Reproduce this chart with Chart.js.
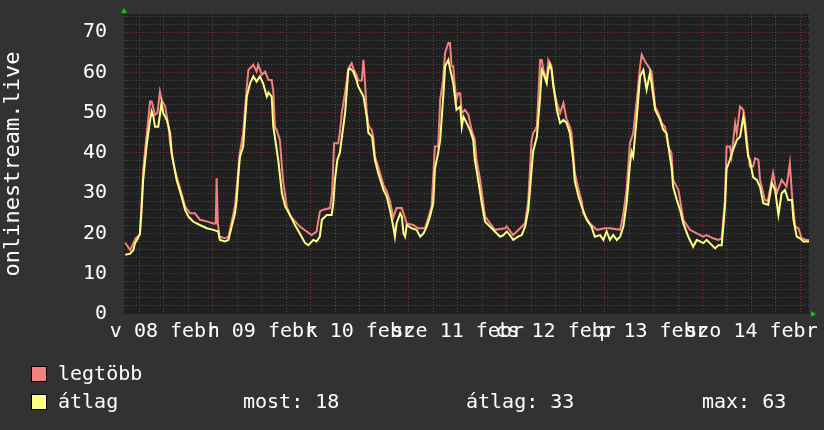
<!DOCTYPE html>
<html>
<head>
<meta charset="utf-8">
<script src="https://cdn.jsdelivr.net/npm/chart.js@4.4.1/dist/chart.umd.min.js"></script>
<style>
  html, body { margin: 0; padding: 0; background: #323232; }
  #wrap { width: 824px; height: 430px; }
</style>
</head>
<body>
<div id="wrap"><canvas id="rrdChart" width="824" height="430"></canvas></div>
<script>
// hours since feb 08 00:00
const maxHours = [
  2.5, 3.7, 4.5, 5.1, 6.1, 6.4, 6.8, 6.9, 7.8, 8.6, 9.0, 9.8, 10.4, 11.0, 11.4, 12.3, 13.1, 13.5, 14.3, 15.1, 16.3, 17.2, 18.4, 19.6, 20.8, 22.5,
  24.1, 24.7, 24.9, 25.2, 25.6, 27.0, 27.8, 28.6, 29.4, 30.0, 30.6, 31.4, 32.3, 32.7, 33.9, 34.7, 35.1, 36.0, 36.8, 37.6, 38.4, 38.8, 39.2, 39.6, 40.4, 41.2, 42.1, 42.9, 45.3, 47.0,
  48.2, 49.4, 50.2, 50.7, 52.7, 53.2, 53.7, 54.7, 55.1, 55.6, 56.4, 57.2, 58.0, 58.4, 59.2, 59.6, 60.5, 60.9, 61.3, 61.7, 62.1, 62.5, 62.9, 63.3, 63.7, 64.5, 65.8, 66.6, 67.4, 68.2, 69.0, 70.3, 71.5,
  73.1, 74.3, 76.0, 77.6, 78.4, 79.2, 79.7, 80.4, 80.9, 81.7, 82.1, 82.5, 82.9, 83.3, 83.7, 84.1, 84.6, 85.0, 85.8, 86.6, 87.4, 88.2, 88.6, 89.5, 90.7, 93.1, 95.6,
  96.0, 97.6, 99.3, 100.5, 101.3, 102.1, 102.5, 103.4, 104.2, 104.6, 105.0, 105.8, 106.2, 107.0, 107.4, 108.3, 109.1, 109.9, 110.7, 111.5, 111.9, 112.7, 113.6, 114.4, 114.8, 116.4, 118.1,
  120.1, 121.3, 123.8, 124.6, 125.4, 126.2, 127.0, 127.9, 128.7, 129.1, 129.9, 130.7, 131.5, 131.9, 132.4, 133.2, 134.0, 134.8, 135.6, 136.4, 136.8, 138.1, 139.3, 140.9, 142.6,
  144.2, 145.0, 146.6, 147.9, 148.7, 149.5, 149.9, 150.7, 151.1, 152.0, 152.4, 152.8, 153.2, 154.0, 154.4, 154.8, 155.2, 155.6, 156.4, 156.9, 157.7, 158.1, 159.3, 160.0, 161.3, 162.2, 163.4, 164.6, 165.4, 165.9, 166.7, 167.5,
  168.3, 169.5, 170.1
];
const maxValues = [
  17.7, 15.9, 17.6, 18.9, 19.6, 25, 33.3, 35.8, 44.9, 52.8, 52.8, 49.5, 49.9, 55.2, 53.2, 51.5, 46.5, 42.4, 37.4, 34.1, 30, 26.7, 25, 25, 23.4, 23,
  22.5, 22.5, 33.7, 22.5, 19.2, 18.8, 19.2, 23, 26.7, 33.3, 40, 44.9, 56.5, 60.6, 61.9, 60.2, 61.9, 59.4, 60.2, 58.1, 58.1, 55.2, 46.5, 45.7, 43.2, 33, 26.7, 24.4, 21.7, 20.5,
  19.6, 20.5, 25.4, 25.8, 26.3, 30, 42.4, 42.4, 45, 50, 55, 61, 62.3, 61, 59.4, 58, 58, 63.1, 57, 50, 47, 46.2, 45.7, 44, 39.1, 36.6, 32, 30.5, 28, 24, 26.3, 26.3, 22.5,
  22.1, 21.3, 21.3, 26.7, 41.6, 41.6, 53.2, 58, 64.8, 67.3, 67.3, 61.5, 61.5, 56.5, 53.2, 54.8, 54.8, 49.9, 50.7, 49.5, 45.7, 43.2, 38.3, 33.3, 24.2, 20.9, 21.3,
  21.7, 19.6, 21.3, 22.5, 28.3, 43.2, 44.9, 46.5, 63.1, 63.1, 60.6, 58.1, 63.1, 61.5, 56.5, 52.4, 49.9, 52.4, 48.2, 46.5, 44.9, 35, 31, 28, 25, 22.5, 20.9,
  21.3, 21.3, 20.9, 25, 30.8, 42.4, 44.9, 53.2, 61.5, 64.4, 62.7, 61.5, 60.2, 56.5, 51.5, 49.9, 47.4, 46.5, 41.6, 39.9, 33.3, 30.8, 23.4, 20.9, 20,
  19.2, 19.6, 18.8, 18.4, 18.8, 28.3, 41.6, 41.6, 39.1, 47.4, 44.9, 48.2, 51.5, 50.7, 48.2, 44, 39.9, 36.6, 36.6, 38.7, 38.3, 33.3, 28.3, 28, 35, 30, 33.3, 31.6, 37.4, 30, 21.7, 21.3,
  18.8, 18.4, 18.4
];
const avgHours = [
  2.5, 3.7, 4.5, 4.9, 5.5, 6.1, 6.5, 6.9, 7.4, 7.8, 8.6, 9.0, 9.4, 9.8, 10.6, 11.4, 11.8, 12.7, 13.5, 13.9, 15.1, 16.3, 17.2, 18.0, 19.2, 20.8, 22.5,
  24.1, 25.3, 25.7, 27.0, 27.8, 28.6, 29.4, 29.8, 30.2, 30.6, 31.4, 32.3, 33.1, 33.9, 34.7, 35.5, 36.3, 37.2, 37.6, 38.4, 38.8, 40.0, 40.9, 41.7, 42.9, 44.1, 45.3, 46.6, 47.4,
  48.6, 49.4, 50.2, 50.7, 51.9, 53.1, 53.5, 53.9, 54.5, 55.1, 56.4, 57.2, 57.6, 58.4, 59.2, 59.6, 60.5, 60.9, 61.7, 62.1, 63.0, 63.7, 64.5, 65.8, 66.6, 67.4, 68.2, 68.6, 69.0, 69.9, 70.3, 70.7, 71.1, 71.5,
  72.7, 73.9, 74.8, 75.6, 76.4, 77.2, 78.0, 78.4, 79.2, 79.7, 80.5, 80.9, 81.7, 82.1, 82.9, 83.7, 84.6, 85.0, 85.4, 86.2, 87.0, 87.8, 88.2, 89.0, 89.9, 90.7, 91.9, 93.1, 94.4, 95.2,
  96.0, 96.8, 97.6, 98.8, 99.7, 100.5, 101.3, 102.1, 102.5, 103.4, 104.2, 104.6, 105.0, 105.8, 106.2, 106.6, 107.0, 107.4, 108.3, 109.1, 109.9, 110.7, 111.5, 112.3, 112.7, 113.6, 114.4, 115.6, 116.8, 117.6, 118.9, 119.7,
  120.5, 121.3, 122.1, 123.0, 123.8, 124.6, 125.4, 126.2, 126.6, 127.0, 127.9, 128.7, 129.5, 130.3, 131.1, 131.5, 132.4, 133.6, 134.4, 135.2, 136.0, 136.4, 136.8, 137.7, 138.5, 139.3, 140.5, 141.7, 142.6,
  144.2, 145.0, 145.8, 147.1, 147.9, 148.7, 149.1, 149.5, 149.9, 150.7, 151.5, 152.4, 153.2, 153.6, 154.0, 154.4, 154.8, 155.2, 155.6, 156.4, 157.3, 158.1, 158.9, 160.1, 161.0, 161.8, 162.6, 163.4, 164.2, 165.0, 165.9, 166.3, 167.1, 167.9,
  168.7, 169.5, 170.1
];
const avgValues = [
  14.7, 15, 15.9, 17.6, 18.6, 20, 25.8, 33.3, 38.3, 42.4, 48.2, 50.3, 49, 46.5, 46.5, 52.4, 49.9, 48.2, 44.9, 39.9, 33.3, 29.2, 25.8, 24.2, 22.9, 22.1, 21.3,
  20.9, 20.5, 18.4, 18, 18.4, 21.7, 25, 28.3, 34, 39, 41.6, 54, 57.3, 59, 57.7, 59, 57.3, 54, 55, 54, 46.5, 38.3, 30, 26.7, 24.6, 22.1, 20, 17.6, 17.1,
  18.4, 18, 19.2, 23.4, 24.6, 24.6, 27.5, 33.3, 38.3, 40, 50, 60.6, 61, 60.2, 58.1, 56.5, 54.8, 54, 49, 45, 44, 38.3, 35, 30.8, 29.2, 25.8, 21.7, 19.2, 22.5, 25, 24.2, 20, 19.2, 22.1,
  21.3, 20.9, 19.2, 20, 21.7, 24.2, 27.5, 36, 40, 43.2, 54.8, 61.5, 63.1, 61, 57.3, 50.7, 51.5, 46.5, 49, 47.4, 45.7, 43.2, 38.3, 33.3, 27.5, 22.9, 21.7, 20.5, 19.2, 19.6,
  20.5, 19.6, 18.4, 19.2, 19.6, 21.7, 25.8, 35.8, 40.5, 44, 54, 60.6, 59.8, 57.3, 60.6, 62, 60.6, 57.3, 50.7, 47.4, 48.2, 47.4, 44.9, 38.3, 33, 29.2, 26.7, 23.4, 21.7, 19.2, 19.6, 18.4,
  20.5, 18.4, 19.6, 18.4, 19.2, 21.7, 27.5, 37, 40.3, 39.1, 49, 59, 60.6, 55.7, 59.8, 57.3, 50.7, 48.2, 45.7, 44.9, 39.1, 36.6, 31.6, 28.3, 25.8, 22.5, 19.2, 16.7, 18.4,
  17.6, 18.4, 17.6, 16.3, 17.1, 17.1, 21.7, 26.7, 36, 38.3, 40.8, 43.2, 44, 46.5, 49, 46.5, 42.4, 39.1, 38.3, 34, 33.3, 31.6, 27.5, 27.1, 32.5, 30.8, 24.6, 30, 30.8, 28.3, 28.3, 23.4, 19.2, 18.8,
  18, 18, 18
];
const dayLabels = ['v 08 febr', 'h 09 febr', 'k 10 febr', 'sze 11 febr', 'cs 12 febr', 'p 13 febr', 'szo 14 febr'];
const seriesNames = ['legtöbb', 'átlag'];
const statNames = ['most:', 'átlag:', 'max:'];
const statValues = [18, 33, 63];
const yTitle = 'onlinestream.live';

const MONO = '"DejaVu Sans Mono", monospace';
const RED = '#f58080';
const YELLOW = '#ffff80';
const minorGrid = '#4e4e4e';
const majorGrid = '#7a3434';

const rrdFrame = {
    id: 'rrdFrame',
    beforeDraw(chart) {
        const {ctx, chartArea: {left, top, width, height}} = chart;
        ctx.save();
        ctx.fillStyle = '#323232';
        ctx.fillRect(0, 0, chart.width, chart.height);
        ctx.fillStyle = '#202020';
        ctx.fillRect(left, top, width, height);
        ctx.restore();
    },
    afterDraw(chart) {
        const {ctx, chartArea: {left, right, bottom, top}} = chart;
        ctx.save();
        // little green arrows at the axis ends
        ctx.fillStyle = '#00d000';
        ctx.beginPath();
        ctx.moveTo(left - 3, top - 1);
        ctx.lineTo(left + 3, top - 1);
        ctx.lineTo(left, top - 6);
        ctx.closePath();
        ctx.fill();
        ctx.beginPath();
        ctx.moveTo(right + 2, bottom - 3);
        ctx.lineTo(right + 2, bottom + 3);
        ctx.lineTo(right + 7, bottom);
        ctx.closePath();
        ctx.fill();

        // legend + stats
        ctx.font = '20px ' + MONO;
        ctx.textBaseline = 'alphabetic';
        const colors = [RED, YELLOW];
        const rows = [380, 408];
        seriesNames.forEach((name, i) => {
            ctx.fillStyle = colors[i];
            ctx.fillRect(31, rows[i] - 14, 16, 16);
            ctx.strokeStyle = '#000';
            ctx.lineWidth = 1;
            ctx.strokeRect(31.5, rows[i] - 13.5, 15, 15);
            ctx.fillStyle = '#fff';
            ctx.fillText(name, 58, rows[i]);
        });
        const statX = [243, 466, 702];
        statNames.forEach((s, i) => {
            ctx.fillText(s + ' ' + statValues[i], statX[i], rows[1]);
        });
        ctx.restore();
    }
};

const toPoints = (hours, values) => hours.map((h, i) => ({x: h, y: values[i]}));

new Chart(document.getElementById('rrdChart'), {
    type: 'line',
    data: {
        datasets: [{
            label: seriesNames[0],
            data: toPoints(maxHours, maxValues),
            borderColor: RED,
            borderWidth: 2,
            pointRadius: 0,
            tension: 0,
            order: 1
        }, {
            label: seriesNames[1],
            data: toPoints(avgHours, avgValues),
            borderColor: YELLOW,
            borderWidth: 2,
            pointRadius: 0,
            tension: 0,
            order: 0
        }]
    },
    options: {
        responsive: false,
        animation: false,
        layout: {padding: {top: 14, right: 15, left: 0, bottom: 0}},
        plugins: {
            legend: {display: false},
            tooltip: {enabled: false}
        },
        scales: {
            x: {
                type: 'linear',
                min: 2.2,
                max: 170.1,
                afterFit(scale) {
                    scale.height = 116;
                    scale.paddingLeft = 0;
                    scale.paddingRight = 0;
                },
                ticks: {
                    stepSize: 6,
                    includeBounds: false,
                    autoSkip: false,
                    maxRotation: 0,
                    minRotation: 0,
                    padding: 6,
                    color: '#ffffff',
                    font: {family: MONO, size: 20},
                    callback: v => (v % 24 === 12 ? dayLabels[(v - 12) / 24] : '')
                },
                grid: {
                    drawTicks: false,
                    color: c => (c.tick && c.tick.value % 24 === 0 ? majorGrid : minorGrid)
                },
                border: {display: false, dash: [1, 2]}
            },
            y: {
                min: 0,
                max: 74.5,
                afterFit(scale) {
                    scale.width = 124;
                    scale.paddingTop = 0;
                    scale.paddingBottom = 0;
                },
                ticks: {
                    stepSize: 2,
                    includeBounds: false,
                    autoSkip: false,
                    padding: 17,
                    color: '#ffffff',
                    font: {family: MONO, size: 20},
                    callback: v => (v % 10 === 0 ? v : '')
                },
                grid: {
                    drawTicks: false,
                    color: c => {
                        if (!c.tick || c.tick.value === 0) return 'rgba(0,0,0,0)';
                        return c.tick.value % 10 === 0 ? majorGrid : minorGrid;
                    }
                },
                border: {display: false, dash: [1, 2]},
                title: {
                    display: true,
                    text: yTitle,
                    color: '#ffffff',
                    font: {family: MONO, size: 22},
                    padding: 0
                }
            }
        }
    },
    plugins: [rrdFrame]
});
</script>
</body>
</html>
